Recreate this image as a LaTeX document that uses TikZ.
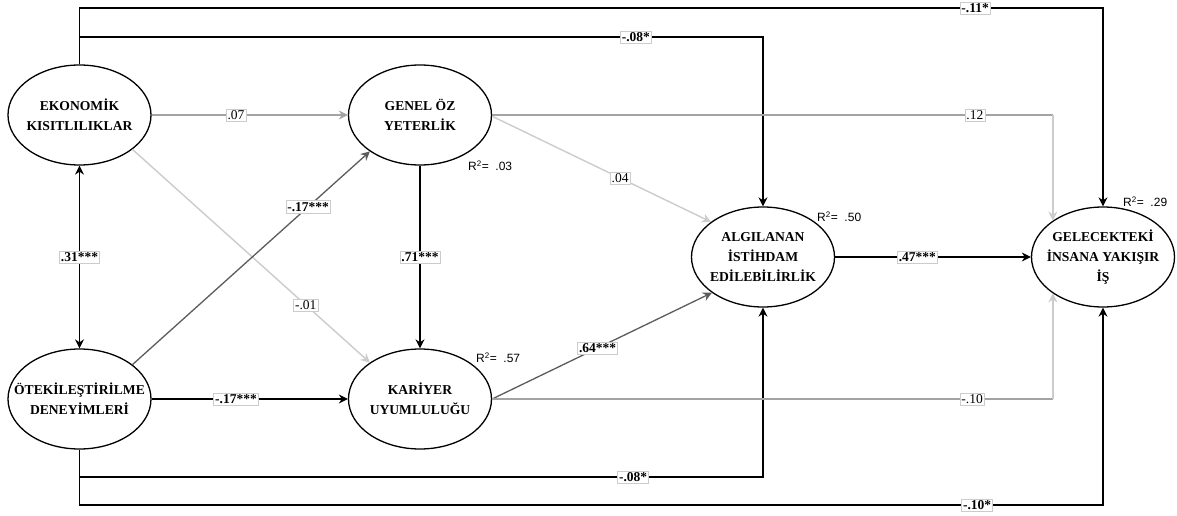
\documentclass[tikz,border=0pt]{standalone}
\usepackage{fontspec}
\setmainfont{Liberation Serif}
\newfontfamily\rsans{Liberation Sans}
\usetikzlibrary{shapes.geometric,arrows.meta}
\definecolor{lgc}{gray}{0.80}
\definecolor{mgc}{gray}{0.64}
\definecolor{dgc}{gray}{0.36}
\newcommand{\zw}[1]{\makebox[0pt][c]{#1}}
\begin{document}
\begin{tikzpicture}[x=1pt,y=-1pt,
  >={Stealth[length=9pt,width=9pt]},
  latent/.style={ellipse, draw=black, line width=1.3pt, minimum width=143pt, minimum height=100pt,
    inner sep=0pt, align=center, font=\fontsize{13.6}{20}\selectfont\bfseries},
  lbl/.style={fill=white, draw=gray!40, line width=0.6pt, inner sep=1.5pt,
    font=\fontsize{13.5}{14}\selectfont},
  sig/.style={lbl, font=\fontsize{13.5}{14}\selectfont\bfseries},
  rsq/.style={anchor=west, inner sep=0pt, font=\rsans\fontsize{12}{13}\selectfont},
  blk/.style={draw=black, line width=1.2pt},
  lgl/.style={draw=lgc, line width=1.4pt},
  mgl/.style={draw=mgc, line width=1.3pt},
  dgl/.style={draw=dgc, line width=1.3pt}
]
\useasboundingbox[fill=white] (0,0) rectangle (1177,516);

% latent variables
\node[latent] (EK) at (79.5,115) {\zw{EKONOMİK}\\\zw{KISITLILIKLAR}};
\node[latent] (GO) at (420,115) {\zw{GENEL ÖZ}\\\zw{YETERLİK}};
\node[latent] (OD) at (79.5,399) {\zw{ÖTEKİLEŞTİRİLME}\\\zw{DENEYİMLERİ}};
\node[latent] (KU) at (420,399) {\zw{KARİYER}\\\zw{UYUMLULUĞU}};
\node[latent] (AI) at (763,257) {\zw{ALGILANAN}\\\zw{İSTİHDAM}\\\zw{EDİLEBİLİRLİK}};
\node[latent] (GI) at (1103,257) {\zw{GELECEKTEKİ}\\\zw{İNSANA YAKIŞIR}\\\zw{İŞ}};

% R squared
\node[rsq] (r1) at (468,166) {R\textsuperscript{2}= \ .03};
\node[rsq] (r2) at (476,358) {R\textsuperscript{2}= \ .57};
\node[rsq] (r3) at (817,217) {R\textsuperscript{2}= \ .50};
\node[rsq] (r4) at (1123,202) {R\textsuperscript{2}= \ .29};

% helper levels
\coordinate (yT1) at (0,8);
\coordinate (yT2) at (0,37);
\coordinate (yB1) at (0,477);
\coordinate (yB2) at (0,505);

% long elbow paths
\draw[blk,->] (EK.north) -- (EK.north |- yT1) -- node[sig,pos=0.875]{-.11*} (GI.north |- yT1) -- (GI.north);
\draw[blk,->] (EK.north) -- (EK.north |- yT2) -- node[sig,pos=0.814]{-.08*} (AI.north |- yT2) -- (AI.north);
\draw[blk,->] (OD.south) -- (OD.south |- yB1) -- node[sig,pos=0.81]{-.08*} (AI.south |- yB1) -- (AI.south);
\draw[blk,->] (OD.south) -- (OD.south |- yB2) -- node[sig,pos=0.877]{-.10*} (GI.south |- yB2) -- (GI.south);

% straight paths
\draw[blk,<->] (EK.south) -- node[sig,pos=0.5]{.31***} (OD.north);
\draw[mgl,->] (EK.east) -- node[lbl,pos=0.43]{.07} (GO.west);
\draw[lgl,->] (EK.-33.7) -- node[lbl,pos=0.73]{-.01} (KU.144.6);
\draw[dgl,->] (OD.33.7) -- node[sig,pos=0.74]{-.17***} (GO.-144);
\draw[blk,->] (OD.east) -- node[sig,pos=0.43]{-.17***} (KU.west);
\draw[blk,->] (GO.south) -- node[sig,pos=0.5]{.71***} (KU.north);
\draw[lgl,->] (GO.-1) -- node[lbl,pos=0.585]{.04} (AI.146.6);
\draw[dgl,->] (KU.east) -- node[sig,pos=0.48]{.64***} (AI.-145.8);
\draw[blk,->] (AI.east) -- node[sig,pos=0.42]{.47***} (GI.west);

% elbow paths to GI
\draw[mgl] (GO.east) -- node[lbl,pos=0.861]{.12} (GI.144 |- GO.east) coordinate (c1);
\draw[lgl,->] (c1) -- (GI.144);
\draw[mgl] (KU.east) -- node[lbl,pos=0.856]{-.10} (GI.-144 |- KU.east) coordinate (c2);
\draw[lgl,->] (c2) -- (GI.-144);
\end{tikzpicture}
\end{document}
